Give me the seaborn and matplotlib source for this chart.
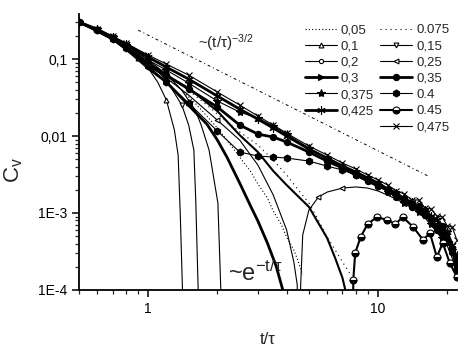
import matplotlib
matplotlib.use("Agg")
import matplotlib.pyplot as plt
from matplotlib.lines import Line2D
from matplotlib.ticker import LogLocator, NullFormatter
import seaborn as sns

# shared time grid of the dense upper curves (t/tau)
t_up = [0.5, 0.6, 0.7, 0.8, 1.0, 1.2, 1.5, 2.0, 2.5, 3.0, 3.5, 4.0, 5, 6, 7, 8, 9, 10,
        11, 12, 13, 14, 15, 16, 17, 18, 19, 20, 21, 22]
c_475 = [0.303, 0.245, 0.199, 0.161, 0.113, 0.0861, 0.0620, 0.0373, 0.0253, 0.0182, 0.0139,
         0.0109, 0.00741, 0.00567, 0.00446, 0.00373, 0.00312, 0.00268, 0.00231, 0.00193,
         0.00177, 0.00148, 0.00148, 0.00116, 0.00113, 0.000914, 0.000887, 0.000678,
         0.000658, 0.000446]
c_425 = [0.303, 0.245, 0.193, 0.157, 0.106, 0.0787, 0.0550, 0.0331, 0.0224, 0.0166, 0.0127,
         0.0100, 0.00678, 0.00518, 0.00407, 0.00341, 0.00285, 0.00245, 0.00205, 0.00182,
         0.00152, 0.00139, 0.00120, 0.00109, 0.000914, 0.000811, 0.000638, 0.000566,
         0.000384, 0.000231]
c_375 = [0.303, 0.245, 0.193, 0.152, 0.0971, 0.0720, 0.0488, 0.0285, 0.0205, 0.0171, 0.0135,
         0.0106, 0.00698, 0.00503, 0.00396, 0.00321, 0.00268, 0.00231, 0.00187, 0.00166,
         0.00135, 0.00127, 0.00103, 0.000942, 0.000719, 0.000638, 0.000473, 0.000566,
         0.000331, 0.000285]
c_35 = [0.303, 0.238, 0.187, 0.143, 0.0887, 0.0620, 0.0408, 0.0238, 0.0139, 0.0106, 0.00971,
        0.00836, 0.00620, 0.00473, 0.00384, 0.00312, 0.00260, 0.00224, 0.00199, 0.00161,
        0.00148, 0.00120, 0.00123, 0.000942, 0.000861, 0.000602, 0.000678, 0.000420,
        0.000351, 0.000182]
c_40 = [0.303, 0.238, 0.182, 0.139, 0.0811, 0.0503, 0.0268, 0.0116, 0.00620, 0.00550, 0.00533,
        0.00518, 0.00473, 0.00407, 0.00362, 0.00312, 0.00268, 0.00224, 0.00193, 0.00171,
        0.00152, 0.00131, 0.00116, 0.00103, 0.000836, 0.000678, 0.000550, 0.000446,
        0.000312, 0.000205]

# curves that fall to zero early (1e-7 = zero / below the axis)
t_10 = [0.5, 0.7, 0.9, 1.0, 1.1, 1.2, 1.3, 1.35, 1.38, 1.41, 1.43]
c_10 = [0.303, 0.177, 0.103, 0.0764, 0.0503, 0.0294, 0.0120, 0.00567, 0.0009, 0.0001, 1e-7]
t_15 = [0.5, 0.7, 0.9, 1.0, 1.2, 1.4, 1.5, 1.58, 1.61, 1.65, 1.67]
c_15 = [0.303, 0.187, 0.116, 0.0914, 0.0534, 0.0253, 0.0139, 0.00658, 0.00148, 0.0001, 1e-7]
t_20 = [0.5, 0.7, 0.9, 1.0, 1.2, 1.4, 1.6, 1.7, 1.84, 2.01, 2.07, 2.1]
c_20 = [0.303, 0.199, 0.123, 0.0971, 0.0638, 0.0395, 0.0218, 0.0139, 0.00658, 0.00135,
        0.0001, 1e-7]
t_30 = [0.5, 0.7, 1.0, 1.2, 1.4, 1.6, 1.8, 2.0, 2.2, 2.5, 2.8, 3.0, 3.3, 3.6, 3.85, 4.0]
c_30 = [0.303, 0.193, 0.0764, 0.0503, 0.0312, 0.0205, 0.0143, 0.00887, 0.00533, 0.00245,
        0.00120, 0.000787, 0.000407, 0.000205, 0.0001, 0.00005]

# curves that cross zero and come back
t_25 = [0.5, 0.7, 1.0, 1.2, 1.5, 2.0, 2.5, 3.0, 3.5, 4.0, 4.3, 4.45, 4.5, 4.55, 4.6, 4.7,
        5.0, 5.5, 6, 7, 8, 9, 10, 12, 14, 16, 18, 20, 22]
c_25 = [0.303, 0.187, 0.0861, 0.0567, 0.0340, 0.0161, 0.00887, 0.00420, 0.00171, 0.000602,
        0.000231, 0.000116, 1e-7, 1e-7, 0.000106, 0.000518, 0.00109, 0.00161, 0.00187,
        0.00211, 0.00218, 0.00211, 0.00193, 0.00152, 0.00116, 0.000861, 0.000566,
        0.000373, 0.000182]
t_45 = [0.5, 0.7, 1.0, 1.5, 2.0, 2.5, 3.0, 3.5, 4.0, 5.0, 6.0, 6.5, 7.0, 7.2, 7.4, 7.7,
        7.8, 7.95, 8.4, 9.0, 9.9, 10.9, 11.9, 12.8, 14.2, 15.7, 16.8, 18.0, 19.1, 20.5, 22.0]
c_45 = [0.303, 0.182, 0.0811, 0.0420, 0.0211, 0.0103, 0.00620, 0.00351, 0.00231, 0.00120,
        0.000473, 0.000261, 0.000143, 0.0001, 1e-7, 1e-7, 0.000135, 0.000303, 0.000488,
        0.000719, 0.000887, 0.000811, 0.000719, 0.000887, 0.000658, 0.000446, 0.000550,
        0.000268, 0.000407, 0.000224, 0.000147]

# dotted curves
t_05 = [0.5, 0.7, 1.0, 1.2, 1.4, 1.6, 1.8, 2.0, 2.2, 2.5, 2.8, 3.0, 3.3, 3.5, 3.8, 4.0,
        4.3, 4.5, 4.7]
c_05 = [0.303, 0.187, 0.0861, 0.0601, 0.0395, 0.0268, 0.0182, 0.0127, 0.00887, 0.00533,
        0.00341, 0.00238, 0.00157, 0.00106, 0.000699, 0.000488, 0.000331, 0.000231, 0.000157]
t_075 = [0.5, 0.7, 1.0, 1.4, 1.8, 2.2, 2.5, 3.0, 3.5, 4.0, 4.5, 5.0, 5.5, 6.0, 6.5, 7.0, 7.6]
c_075 = [0.303, 0.187, 0.0914, 0.0459, 0.0253, 0.0152, 0.0113, 0.00764, 0.00488, 0.00312,
         0.00199, 0.00135, 0.000811, 0.000488, 0.000331, 0.000231, 0.000157]

# ~(t/tau)^-3/2 guide line
pl_t = [0.905, 16.8]
pl_c = [0.238, 0.00294]

# legend order: column 1 then column 2 ('' = empty slot)
col1 = ['0,05', '0,1', '0,2', '0,3', '0,375', '0,425', '']
col2 = ['0.075', '0,15', '0,25', '0,35', '0.4', '0.45', '0,475']

series = {
    '0,05': (t_05, c_05), '0.075': (t_075, c_075), '0,1': (t_10, c_10),
    '0,15': (t_15, c_15), '0,2': (t_20, c_20), '0,25': (t_25, c_25),
    '0,3': (t_30, c_30), '0,35': (t_up, c_35), '0,375': (t_up, c_375),
    '0.4': (t_up, c_40), '0,425': (t_up, c_425), '0.45': (t_45, c_45),
    '0,475': (t_up, c_475),
}

thin, thick = 0.8, 2.0
styles = {
    '0,05': dict(lw=thin, ls=(0, (1, 2)), marker=None),
    '0.075': dict(lw=thin, ls=(0, (1, 3.5)), marker=None),
    '0,1': dict(lw=thin, ls='-', marker='^', ms=3.5, mfc='white', every=[2, 5]),
    '0,15': dict(lw=thin, ls='-', marker='v', ms=3.5, mfc='white', every=[5]),
    '0,2': dict(lw=thin, ls='-', marker='o', ms=3, mfc='white', every=[4]),
    '0,25': dict(lw=thin, ls='-', marker='<', ms=3.5, mfc='white', every=[5, 17, 19]),
    '0,3': dict(lw=thick, ls='-', marker='>', ms=5, mfc='black', every=[]),
    '0,35': dict(lw=thick, ls='-', marker='o', ms=4.5, mfc='black', every=None),
    '0,375': dict(lw=thin, ls='-', marker='*', ms=6, mfc='black', every=None),
    '0.4': dict(lw=thin, ls='-', marker='h', ms=5, mfc='black', every=None),
    '0,425': dict(lw=thick, ls='-', marker=(6, 2, 0), ms=6, mfc='black', every=None),
    '0.45': dict(lw=1.5, ls='-', marker='o', ms=5, mfc='black', every=slice(16, None)),
    '0,475': dict(lw=thin, ls='-', marker='x', ms=4, mfc='black', every=None),
}

sns.set_style("ticks")
plt.rcParams['font.family'] = ['Liberation Sans', 'DejaVu Sans']
plt.rcParams['mathtext.fontset'] = 'custom'
plt.rcParams['mathtext.rm'] = 'Liberation Sans'
plt.rcParams['mathtext.it'] = 'Liberation Sans:italic'

fig = plt.figure(figsize=(4.7, 3.54), dpi=100)
ax = fig.add_axes([0.168, 0.181, 0.804, 0.779])

for label, (t, c) in series.items():
    st = styles[label]
    kw = dict(color='black', linewidth=st['lw'], linestyle=st['ls'])
    if st['marker'] is not None and st['every'] != []:
        kw.update(marker=st['marker'], markersize=st['ms'], markerfacecolor=st['mfc'],
                  markeredgecolor='black', markeredgewidth=0.8)
        if st['every'] is not None:
            kw['markevery'] = st['every']
        if label == '0.45':
            kw.update(fillstyle='bottom', markerfacecoloralt='white')
    sns.lineplot(x=t, y=c, ax=ax, estimator=None, sort=False, legend=False, **kw)

sns.lineplot(x=pl_t, y=pl_c, ax=ax, color='black', linewidth=0.7,
             linestyle=(0, (3, 3, 1, 3)), estimator=None, sort=False, legend=False)

ax.set_xscale('log')
ax.set_yscale('log')
ax.set_xlim(0.5, 22)
ax.set_ylim(1e-4, 0.384)
ax.set_xticks([1, 10], labels=['1', '10'])
ax.set_yticks([1e-4, 1e-3, 1e-2, 1e-1], labels=['1E-4', '1E-3', '0,01', '0,1'])
ax.xaxis.set_minor_locator(LogLocator(base=10, subs=range(2, 10)))
ax.yaxis.set_minor_locator(LogLocator(base=10, subs=range(2, 10)))
ax.xaxis.set_minor_formatter(NullFormatter())
ax.yaxis.set_minor_formatter(NullFormatter())
ax.tick_params(which='major', direction='out', length=5, width=1.1, labelsize=10,
               colors='black')
ax.tick_params(which='minor', direction='out', length=3, width=0.9)
sns.despine(ax=ax)
for s in ['left', 'bottom']:
    ax.spines[s].set_linewidth(1.3)
    ax.spines[s].set_color('black')

ax.set_xlabel('t/τ', fontsize=12, labelpad=12)
fig.text(0.030, 0.52, r'C$_{\mathregular{v}}$', rotation=90, fontsize=16,
         ha='center', va='center')

ax.text(1.646, 0.139, r'~(t/τ)$^{\mathregular{-3/2}}$', fontsize=11,
        ha='left', va='baseline')
ax.text(2.22, 1.3e-4, r'~e$^{\mathregular{-t/τ}}$', fontsize=17,
        ha='left', va='baseline')

# legend built from proxies in the two-column order
handles = []
labels = []
for lab in col1 + col2:
    if lab == '':
        handles.append(Line2D([], [], linestyle='none'))
        labels.append('')
        continue
    st = styles[lab]
    kw = dict(color='black', linewidth=st['lw'], linestyle=st['ls'])
    if st['marker'] is not None:
        kw.update(marker=st['marker'], markersize=st['ms'], markerfacecolor=st['mfc'],
                  markeredgecolor='black', markeredgewidth=0.8)
        if lab == '0.45':
            kw.update(fillstyle='bottom', markerfacecoloralt='white')
    handles.append(Line2D([], [], **kw))
    labels.append(lab)

fig.legend(handles, labels, ncol=2, loc='upper left', bbox_to_anchor=(0.649, 0.932),
           frameon=False, fontsize=9.5, handlelength=2.4, handletextpad=0.3,
           columnspacing=0.5, labelspacing=0.30, borderpad=0, borderaxespad=0)

fig.savefig('out.png', dpi=100)
